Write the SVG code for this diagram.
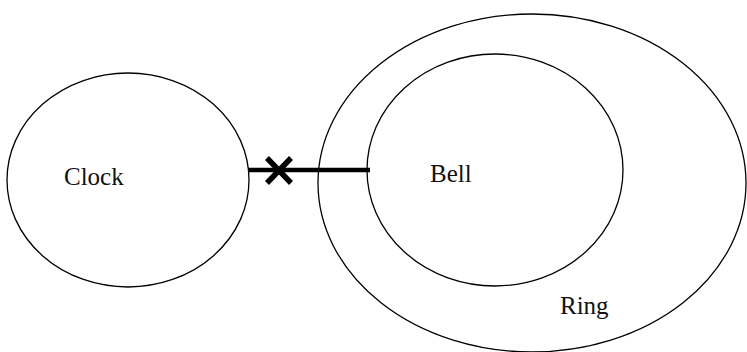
<svg xmlns="http://www.w3.org/2000/svg" width="747" height="352" viewBox="0 0 747 352">
<style>
.shape{fill:none;stroke:#000;stroke-width:1.3}
.lbl{font-family:"Liberation Serif","Times New Roman",serif;font-size:25px;fill:#111}
.conn{stroke:#000;stroke-width:4.5;fill:none}
.cross{stroke:#000;stroke-width:5.5;fill:none}
</style>
<rect width="747" height="352" fill="#fff"/>
<g id="clock">
<ellipse class="shape" cx="128" cy="180" rx="121" ry="107"/>
<text class="lbl" x="64" y="185">Clock</text>
</g>
<g id="ring">
<ellipse class="shape" cx="532" cy="183" rx="214" ry="169"/>
<text class="lbl" x="560" y="314">Ring</text>
</g>
<g id="bell">
<ellipse class="shape" cx="495" cy="170" rx="128" ry="116"/>
<text class="lbl" x="430" y="182">Bell</text>
</g>
<g id="connectors">
<line class="conn" x1="248" y1="170" x2="370" y2="170"/>
<path class="cross" d="M267 158 L291 183 M291 158 L267 183"/>
</g>
</svg>
